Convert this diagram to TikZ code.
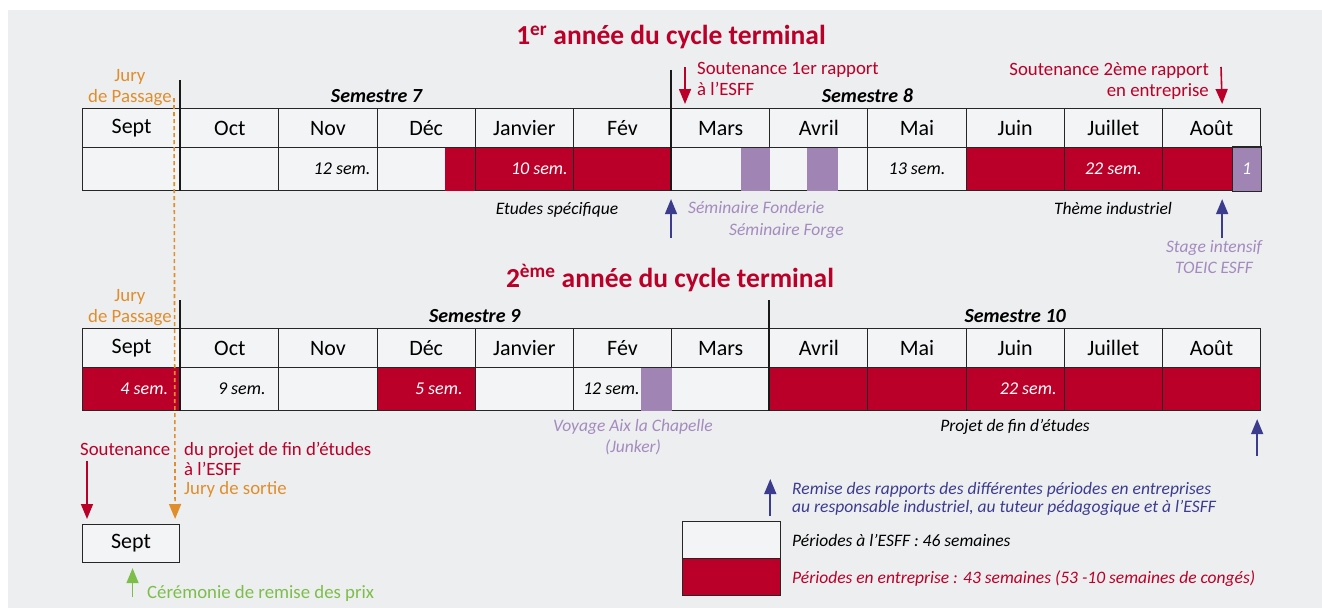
\documentclass[tikz,border=0pt]{standalone}
\usepackage{fontspec}
\setmainfont{Carlito}
\usetikzlibrary{arrows.meta,positioning}

\definecolor{cfond}{HTML}{EDEEF0}
\definecolor{cblanc}{HTML}{F3F4F5}
\definecolor{crouge}{HTML}{BA0028}
\definecolor{cviolet}{HTML}{A085B4}
\definecolor{cviotxt}{HTML}{A48BBE}
\definecolor{cjury}{HTML}{E08E2B}
\definecolor{cbleu}{HTML}{3C3C8E}
\definecolor{cvert}{HTML}{7DBE4B}

\tikzset{
  mois/.style={draw=black!85, line width=1.1pt, fill=cblanc, minimum width=98.17pt,
    minimum height=39pt, inner sep=0pt, anchor=north west, font=\fontsize{22}{26}\selectfont},
  periode/.style={draw=black!85, line width=1.1pt, minimum width=98.17pt,
    minimum height=43pt, inner sep=0pt, anchor=north west},
  sem/.style={font=\fontsize{18}{20}\selectfont\itshape, inner sep=0pt},
  semblanc/.style={sem, text=white},
  semestre/.style={font=\fontsize{20}{22}\selectfont\bfseries\itshape, inner sep=0pt, anchor=south},
  titre/.style={font=\fontsize{27.5}{30}\selectfont\bfseries, text=crouge, inner sep=0pt},
  annot/.style={font=\fontsize{18.8}{21}\selectfont, inner sep=0pt},
  note/.style={font=\fontsize{17.5}{20.5}\selectfont\itshape, inner sep=0pt},
  sepsem/.style={line width=2.2pt, black!90},
  bout/.style={fill=cviolet},
  fleche/.style={line width=1.6pt, -{Triangle[length=15pt,width=12pt]}},
}

\begin{document}
\begin{tikzpicture}[x=1pt,y=-1pt]
\useasboundingbox (0,0) rectangle (1322,608);
\fill[cfond] (8,10) rectangle (1322,608);

% 1re annee
\node[titre] (titre1) at (671,37) {1\textsuperscript{er} année du cycle terminal};
\foreach \m [count=\i] in {Sept,Oct,Nov,Déc,Janvier,Fév,Mars,Avril,Mai,Juin,Juillet,Août}
  \node[mois] (a\i) at ({82+(\i-1)*98.17},108) {\m};
\foreach \f [count=\i] in {cblanc,cblanc,cblanc,cblanc,crouge,crouge,cblanc,cblanc,cblanc,crouge,crouge,crouge}
  \node[periode,fill=\f] (b\i) at ({82+(\i-1)*98.17},147) {};

\fill[crouge] ([xshift=-31pt,yshift=-.55pt]b4.north east) rectangle ([xshift=-.55pt,yshift=.55pt]b4.south east);
\fill[bout] ([xshift=-29pt,yshift=-.55pt]b7.north east) rectangle ([xshift=-.55pt,yshift=.55pt]b7.south east);
\fill[bout] ([xshift=38pt,yshift=-.55pt]b8.north west) rectangle ([xshift=69pt,yshift=.55pt]b8.south west);
\filldraw[bout, draw=black!85, line width=1.1pt] ([xshift=-29pt]b12.north east) rectangle (b12.south east);

\node[sem, anchor=east] (s1) at ([xshift=-7pt]b3.east) {12 sem.};
\node[semblanc, anchor=east] (s2) at ([xshift=-6pt]b5.east) {10 sem.};
\node[sem] (s3) at (b9) {13 sem.};
\node[semblanc] (s4) at (b11) {22 sem.};
\node[semblanc] (s5) at ([xshift=-14.5pt]b12.east) {1};

\draw[sepsem] ([yshift=28pt]a2.north west) -- (b2.south west);
\draw[sepsem] ([yshift=38pt]a7.north west) -- (b7.south west);
\node[semestre] (sem7) at ([yshift=5pt]a4.north west) {Semestre 7};
\node[semestre] (sem8) at ([yshift=5pt]a9.north west) {Semestre 8};

\node[annot, text=cjury, align=center, anchor=south] (jury1) at (130,106) {Jury\\de Passage};

\node[annot, text=crouge, align=left, anchor=north west] (sout1) at (697,62) {Soutenance 1er rapport\\à l’ESFF};
\draw[fleche, crouge] ([xshift=-12pt,yshift=-5pt]sout1.north west) -- ([xshift=14pt,yshift=4pt]a7.north west);
\node[annot, text=crouge, align=right, anchor=north east] (sout2) at (1209,62) {Soutenance 2ème rapport\\en entreprise};
\draw[fleche, crouge] ([xshift=12pt,yshift=-5pt]sout2.north east) -- ([xshift=-39pt,yshift=4pt]a12.north east);

\node[note, anchor=base] (etudes) at (557,214) {Etudes spécifique};
\draw[fleche, cbleu] ([yshift=-47pt]b7.south west) -- ([yshift=-8pt]b7.south west);
\node[note, text=cviotxt, anchor=base west] (fonderie) at (688,213) {Séminaire Fonderie};
\node[note, text=cviotxt, anchor=base west] (forge) at (729,235) {Séminaire Forge};
\node[note, anchor=base] (theme) at (1113,214) {Thème industriel};
\draw[fleche, cbleu] ([xshift=-39pt,yshift=-47pt]b12.south east) -- ([xshift=-39pt,yshift=-8pt]b12.south east);
\node[note, text=cviotxt, align=center] (toeic) at (1214,257) {Stage intensif\\TOEIC ESFF};

% 2e annee
\node[titre] (titre2) at (670,278) {2\textsuperscript{ème} année du cycle terminal};
\foreach \m [count=\i] in {Sept,Oct,Nov,Déc,Janvier,Fév,Mars,Avril,Mai,Juin,Juillet,Août}
  \node[mois] (c\i) at ({82+(\i-1)*98.17},328) {\m};
\foreach \f [count=\i] in {crouge,cblanc,cblanc,crouge,cblanc,cblanc,cblanc,crouge,crouge,crouge,crouge,crouge}
  \node[periode,fill=\f] (d\i) at ({82+(\i-1)*98.17},367) {};

\fill[bout] ([xshift=-31pt,yshift=-.55pt]d6.north east) rectangle ([xshift=-.55pt,yshift=.55pt]d6.south east);

\node[semblanc, anchor=east] (t1) at ([xshift=-13pt]d1.east) {4 sem.};
\node[sem] (t2) at ([xshift=12pt]d2.center) {9 sem.};
\node[semblanc, anchor=east] (t3) at ([xshift=-13pt]d4.east) {5 sem.};
\node[sem, anchor=west] (t4) at ([xshift=10pt]d6.west) {12 sem.};
\node[semblanc, anchor=east] (t5) at ([xshift=-8pt]d10.east) {22 sem.};

\draw[sepsem] ([yshift=28pt]c2.north west) -- (d2.south west);
\draw[sepsem] ([yshift=28pt]c8.north west) -- (d8.south west);
\node[semestre] (sem9) at ([yshift=5pt]c5.north west) {Semestre 9};
\node[semestre] (sem10) at ([yshift=5pt]c10.north) {Semestre 10};

\node[annot, text=cjury, align=center, anchor=south] (jury2) at (130,326) {Jury\\de Passage};

\node[note, text=cviotxt, align=center] (voyage) at (633,437) {Voyage Aix la Chapelle\\(Junker)};
\node[note, anchor=base] (projet) at (1015,431) {Projet de fin d’études};
\draw[fleche, cbleu] ([xshift=-4pt,yshift=-45pt]d12.south east) -- ([xshift=-4pt,yshift=-8pt]d12.south east);

% sortie
\node[mois, minimum width=97pt, minimum height=38pt] (sept) at (82,524) {Sept};
\node[annot, text=crouge, anchor=base west] (sout3) at (80,455) {Soutenance};
\node[annot, text=crouge, anchor=base west] (projfin) at (184,455) {du projet de fin d’études};
\node[annot, text=crouge, anchor=base west] (esff) at (184,475) {à l’ESFF};
\node[annot, text=cjury, anchor=base west] (jury3) at (184,494) {Jury de sortie};
\draw[fleche, crouge] ([xshift=7pt,yshift=-6pt]sout3.base west) -- ([xshift=5pt,yshift=5pt]sept.north west);
\coordinate (jp) at (174,98);
\draw[fleche, cjury, dash pattern=on 4pt off 3pt] (jp) -- ([xshift=-5pt,yshift=5pt]sept.north east);
\draw[fleche, cvert] ([xshift=1.5pt,yshift=-34pt]sept.south) -- ([xshift=1.5pt,yshift=-5pt]sept.south);
\node[annot, text=cvert, anchor=base west] (prix) at (147,598) {Cérémonie de remise des prix};

% legende
\node[periode, fill=cblanc, minimum height=37pt] (leg1) at (682,521) {};
\node[periode, fill=crouge, minimum height=37pt] (leg2) at (682,558) {};
\draw[fleche, cbleu] ([xshift=-11pt,yshift=5pt]leg1.north east) -- ([xshift=-11pt,yshift=42pt]leg1.north east);
\node[note, text=cbleu, align=left, anchor=north west, font=\fontsize{17.5}{18.5}\selectfont\itshape] (remise) at (792,482) {Remise des rapports des différentes périodes en entreprises\\au responsable industriel, au tuteur pédagogique et à l’ESFF};
\node[note, anchor=base west] (legesff) at (792,546) {Périodes à l’ESFF : 46 semaines};
\node[note, text=crouge, anchor=base west] (legent) at (792,583) {Périodes en entreprise : 43 semaines (53 -10 semaines de congés)};
\end{tikzpicture}
\end{document}
